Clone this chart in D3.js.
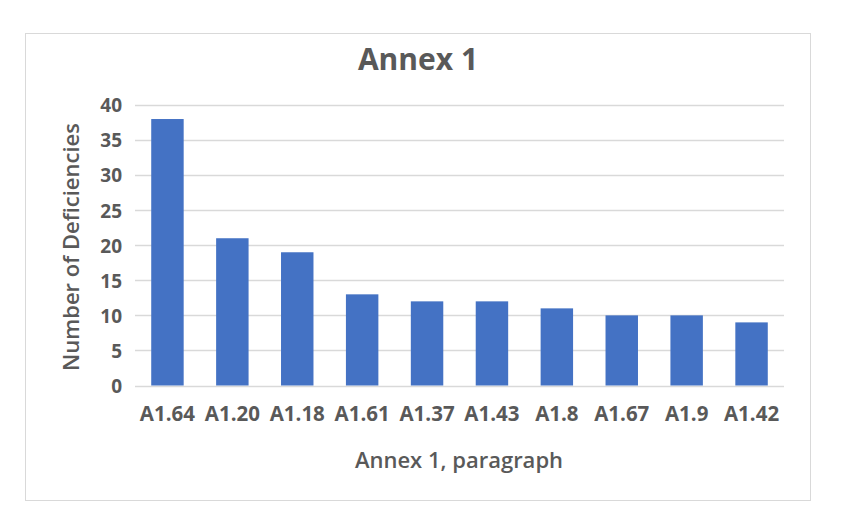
<!DOCTYPE html>
<html>
<head>
<meta charset="utf-8">
<script src="https://cdn.jsdelivr.net/npm/d3@7"></script>
<style>
  body { margin: 0; background: #fff; }
  text { font-family: "Open Sans", "Noto Sans", sans-serif; fill: #595959; }
</style>
</head>
<body>
<div id="chart"></div>
<script>
var categories = ['A1.64', 'A1.20', 'A1.18', 'A1.61', 'A1.37', 'A1.43', 'A1.8', 'A1.67', 'A1.9', 'A1.42'];
var deficiencies = [38, 21, 19, 13, 12, 12, 11, 10, 10, 9];
var yTicks = [0, 5, 10, 15, 20, 25, 30, 35, 40];

var width = 860, height = 516;
var plot = { left: 135, right: 784, top: 105, bottom: 385.5 };

var svg = d3.select('#chart').append('svg')
  .attr('width', width).attr('height', height);

// chart frame
svg.append('rect')
  .attr('x', 25.5).attr('y', 33.5)
  .attr('width', 785).attr('height', 467)
  .attr('fill', '#fff').attr('stroke', '#d9d9d9');

var x = d3.scaleBand().domain(categories)
  .range([plot.left, plot.right])
  .paddingInner(0.5).paddingOuter(0.25);
var y = d3.scaleLinear().domain([0, 40]).range([plot.bottom, plot.top]);

// gridlines
svg.append('g').selectAll('line').data(yTicks).join('line')
  .attr('x1', plot.left).attr('x2', plot.right)
  .attr('y1', function (d) { return Math.round(y(d)) + 0.5; })
  .attr('y2', function (d) { return Math.round(y(d)) + 0.5; })
  .attr('stroke', '#d9d9d9').attr('stroke-width', 1.5);

// bars
svg.append('g').selectAll('rect').data(deficiencies).join('rect')
  .attr('x', function (d, i) { return x(categories[i]); })
  .attr('y', function (d) { return y(d); })
  .attr('width', x.bandwidth())
  .attr('height', function (d) { return y(0) - y(d); })
  .attr('fill', '#4472c4');

// y axis
var yAxis = svg.append('g')
  .attr('transform', 'translate(' + (plot.left - 13) + ',0)')
  .call(d3.axisLeft(y).tickValues(yTicks).tickSize(0).tickPadding(0));
yAxis.select('.domain').remove();
yAxis.selectAll('text')
  .style('font-size', '19px').style('font-weight', 'bold')
  .attr('dy', '0.36em')
  .attr('fill', '#595959');

// x axis
var xAxis = svg.append('g')
  .attr('transform', 'translate(0,' + plot.bottom + ')')
  .call(d3.axisBottom(x).tickSize(0).tickPadding(21));
xAxis.select('.domain').remove();
xAxis.selectAll('text')
  .style('font-size', '20.5px').style('font-weight', 'bold')
  .attr('fill', '#595959');

// titles
svg.append('text')
  .attr('x', 418).attr('y', 70)
  .attr('text-anchor', 'middle')
  .style('font-size', '30px').style('font-weight', 'bold')
  .text('Annex 1');

svg.append('text')
  .attr('x', 459).attr('y', 468)
  .attr('text-anchor', 'middle')
  .style('font-size', '22px').style('font-weight', '600')
  .text('Annex 1, paragraph');

svg.append('text')
  .attr('transform', 'translate(79,247) rotate(-90)')
  .attr('text-anchor', 'middle')
  .style('font-size', '22px').style('font-weight', '600')
  .text('Number of Deficiencies');
</script>
</body>
</html>
